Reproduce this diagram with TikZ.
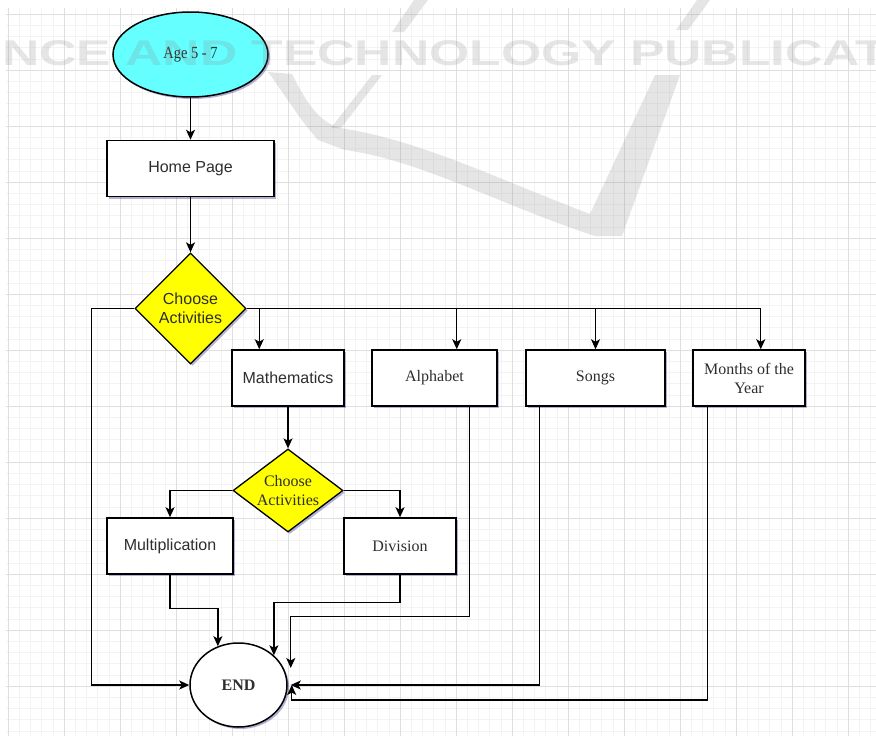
\documentclass[tikz,border=0pt]{standalone}
\usepackage{fontspec}
\setmainfont{Liberation Serif}
\setsansfont{Liberation Sans}
\usetikzlibrary{arrows.meta, positioning, calc, shapes.geometric, shadows}
\definecolor{gridminor}{HTML}{F3F3F3}
\definecolor{gridmajor}{HTML}{DFDFDF}
\definecolor{startcyan}{HTML}{66FFFF}
\definecolor{choiceyellow}{HTML}{FFFF00}
\definecolor{labelink}{HTML}{2E2E2E}
\definecolor{stampgrey}{HTML}{808080}

\begin{document}
\begin{tikzpicture}[x=1pt, y=-1pt,
    every node/.style={font=\fontsize{16}{19}\selectfont, text=labelink, align=center},
    sans/.style={font=\fontsize{16}{19}\selectfont\sffamily},
    softshadow/.style={drop shadow={shadow xshift=2pt, shadow yshift=-2pt, opacity=0.3, fill=black!55!blue}},
    stepbox/.style={draw, line width=1.5pt, fill=white, minimum height=56pt, inner sep=0pt, softshadow},
    choice/.style={diamond, draw, line width=1.3pt, fill=choiceyellow, inner sep=-4pt, softshadow},
    oval/.style={ellipse, draw, line width=1.5pt, inner sep=0pt, softshadow},
    link/.style={line width=1.3pt, -{Stealth[length=10pt, width=9pt, inset=2.5pt]}}]
    \useasboundingbox (0,0) rectangle (876,736);
    \fill[white] (0,0) rectangle (876,736);
    \foreach \i in {0,...,77}{%
      \draw[gridminor, line width=0.6pt] (8+\i*11.2,8) -- (8+\i*11.2,736);}
    \foreach \i in {0,...,64}{%
      \draw[gridminor, line width=0.6pt] (6,14+\i*11.2) -- (876,14+\i*11.2);}
    \foreach \i in {0,...,15}{%
      \draw[gridmajor, line width=0.9pt] (8+\i*56,8) -- (8+\i*56,736);}
    \foreach \i in {0,...,12}{%
      \draw[gridmajor, line width=0.9pt] (6,14+\i*56) -- (876,14+\i*56);}

    \node[oval, fill=startcyan, minimum width=155pt, minimum height=85pt] (age) at (190.5,54.5)
      {\fontsize{17}{19}\selectfont\scalebox{0.85}[1]{Age 5 - 7}};
    \node[stepbox, sans, minimum width=167pt] (home) at (190.5,168.5) {Home Page};
    \node[choice, sans, minimum width=111pt, minimum height=111pt] (dia1) at (190.5,308.5) {Choose\\Activities};
    \node[stepbox, sans, minimum width=112pt] (math) at (288,378) {Mathematics};
    \node[stepbox, minimum width=125pt] (alpha) at (434.5,378) {Alphabet};
    \node[stepbox, minimum width=139pt] (songs) at (595.5,378) {Songs};
    \node[stepbox, minimum width=112pt] (months) at (749,378) {Months of the\\Year};
    \node[choice, minimum width=110pt, minimum height=83pt] (dia2) at (288,490.5) {Choose\\Activities};
    \node[stepbox, sans, minimum width=126pt] (mult) at (170,546) {Multiplication};
    \node[stepbox, minimum width=112pt] (div) at (400,546) {Division};
    \node[oval, fill=white, minimum width=97pt, minimum height=84pt] (endn) at (238.5,685) {\textbf{END}};

    \draw[link] (age) -- (home);
    \draw[link] (home) -- (dia1);
    \draw[link] (dia1.east) -| ([xshift=28pt]math.north west);
    \draw[link] (dia1.east) -| ([xshift=-41pt]alpha.north east);
    \draw[link] (dia1.east) -| (songs.north);
    \draw[link] (dia1.east) -| ([xshift=-45pt]months.north east);
    \draw[link] (dia1.west) -- ++(-43,0) |- (endn.west);
    \draw[link] (math) -- (dia2);
    \draw[link] (dia2.west) -| (mult.north);
    \draw[link] (dia2.east) -| (div.north);
    \draw[link] (mult.south) -- ++(0,34) -| (endn.118);
    \draw[link] (div.south) -- ++(0,28) -| (endn.40);
    \draw[link] ([xshift=-28pt]alpha.south east) -- ++(0,210) -| ([xshift=3pt, yshift=17pt]endn.east);
    \draw[link] ([xshift=14pt]songs.south west) |- ([xshift=3pt]endn.east);
    \draw[link] ([xshift=15pt]months.south west) |- ([xshift=4pt, yshift=-15pt]endn.east) -- ([xshift=4pt]endn.east);

    \begin{scope}[opacity=0.2]
      \clip (0,0) rectangle (876,736);
      \node[anchor=west, inner sep=0pt, text=stampgrey] (stamp) at (2,53)
        {\resizebox{885pt}{25pt}{\sffamily\bfseries NCE AND TECHNOLOGY PUBLICAT}};
      \fill[stampgrey] (268,72) -- (292,74) .. controls (305,100) and (318,122) .. (340,128)
        .. controls (420,140) and (500,180) .. (590,214) -- (655,75) -- (680,75) -- (622,236) -- (595,236)
        .. controls (500,205) and (420,160) .. (345,150) -- (318,140)
        .. controls (300,120) and (285,95) .. (268,72) -- cycle;
      \fill[stampgrey] (676,30) -- (697,0) -- (710,0) -- (688,30) -- cycle;
      \fill[stampgrey] (414,0) -- (428,0) -- (404,32) -- (392,32) -- cycle;
      \fill[stampgrey] (372,75) -- (382,75) -- (341,128) -- (331,128) -- cycle;
    \end{scope}
  \end{tikzpicture}
\end{document}
